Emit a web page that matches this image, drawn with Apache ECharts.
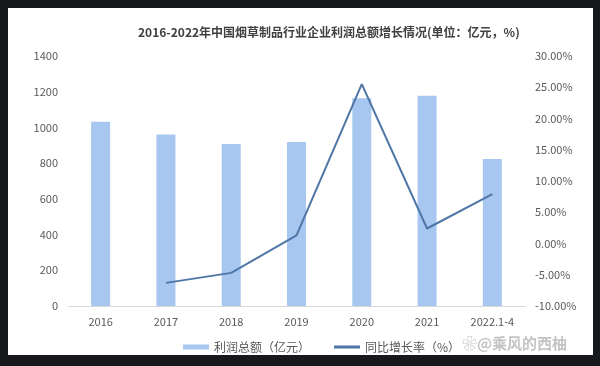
<!DOCTYPE html>
<html><head><meta charset="utf-8">
<script src="https://cdn.jsdelivr.net/npm/echarts@6/dist/echarts.min.js"></script>
<style>html,body{margin:0;padding:0;background:#16181b;}#c{width:600px;height:366px;}</style>
</head><body><div id="c"></div>
<script>
var categories = ['2016','2017','2018','2019','2020','2021','2022.1-4'];
var profit = [1032, 961, 907, 918, 1163, 1178, 823];
var growth = [null, -6.3, -4.7, 1.3, 25.5, 2.4, 7.9];
var leftTicks = [0, 200, 400, 600, 800, 1000, 1200, 1400];
var rightTicks = [-10, -5, 0, 5, 10, 15, 20, 25, 30];

var font = '"Noto Sans CJK SC", "Noto Sans", sans-serif';
var chart = echarts.init(document.getElementById('c'), null, {renderer:'canvas'});
chart.setOption({
  backgroundColor: '#16181b',
  animation: false,
  textStyle: {fontFamily: font},
  graphic: [
    {type:'rect', z:-10, shape:{x:8, y:8, width:585, height:347}, style:{fill:'#ffffff'}},
    {type:'text', left:462, top:336, z:5, style:{text:'❀@乘风的西柚', fill:'#c4c4c4', font:'bold 15px ' + font}}
  ],
  title: {
    text: '2016-2022年中国烟草制品行业企业利润总额增长情况(单位：亿元，%)',
    left: 133, top: 21,
    textStyle: {fontSize: 12, fontWeight: 'bold', color: '#404040', fontFamily: font}
  },
  legend: {
    left: 178, top: 336,
    itemWidth: 26, itemHeight: 5, itemGap: 24,
    textStyle: {fontSize: 12, color: '#595959', fontFamily: font},
    data: [{name:'利润总额（亿元）', icon:'rect'}, {name:'同比增长率（%）', icon:'path://M0,0H26V3H0Z'}]
  },
  grid: {left: 68, right: 75, top: 56, bottom: 60, containLabel: false},
  xAxis: {
    type: 'category', data: categories,
    axisLine: {lineStyle: {color: '#d9d9d9', width: 1}},
    axisTick: {show: false},
    axisLabel: {color: '#595959', fontSize: 11, margin: 10, interval: 0}
  },
  yAxis: [
    {type:'value', min: leftTicks[0], max: leftTicks[leftTicks.length-1], interval: 200,
     axisLine:{show:false}, axisTick:{show:false}, splitLine:{show:false},
     axisLabel:{color:'#595959', fontSize:11, margin:10, formatter: function(v){return String(v);}}},
    {type:'value', min: rightTicks[0], max: rightTicks[rightTicks.length-1], interval: 5,
     axisLine:{show:false}, axisTick:{show:false}, splitLine:{show:false},
     axisLabel:{color:'#595959', fontSize:11, margin:10, formatter: function(v){return v.toFixed(2)+'%';}}}
  ],
  series: [
    {name:'利润总额（亿元）', type:'bar', data: profit, barWidth: 19,
     itemStyle:{color:'#a7c7f0'}},
    {name:'同比增长率（%）', type:'line', yAxisIndex:1, data: growth, symbol:'none',
     connectNulls: false, lineStyle:{color:'#4f76a6', width:2}, itemStyle:{color:'#4f76a6'}}
  ]
});
</script></body></html>
